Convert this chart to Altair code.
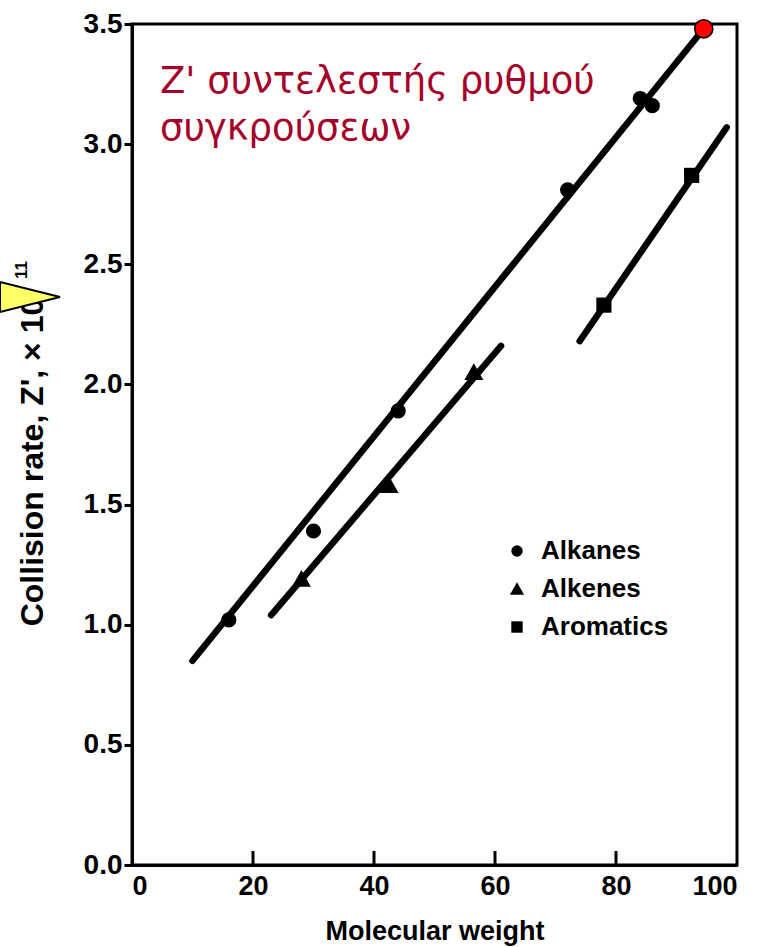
import altair as alt
import pandas as pd

# ---- data ----
series_names = ["Alkanes", "Alkenes", "Aromatics"]

alkanes_x = [16, 30, 44, 72, 84, 86]
alkanes_y = [1.02, 1.39, 1.89, 2.81, 3.19, 3.16]
alkenes_x = [28, 42.5, 56.5]
alkenes_y = [1.19, 1.58, 2.05]
aromatics_x = [78, 92.5]
aromatics_y = [2.33, 2.87]

# fitted line endpoints
alkanes_line_x = [10, 94.5]
alkanes_line_y = [0.85, 3.48]
alkenes_line_x = [23, 61]
alkenes_line_y = [1.04, 2.16]
aromatics_line_x = [74, 98.3]
aromatics_line_y = [2.18, 3.07]

highlight_x = [94.5]
highlight_y = [3.48]

x_ticks = [0, 20, 40, 60, 80, 100]
y_ticks = [0.0, 0.5, 1.0, 1.5, 2.0, 2.5, 3.0, 3.5]

note_lines = ["Z' συντελεστής ρυθμού", "συγκρούσεων"]
y_title = "Collision rate, Z', \u00d7 10"
y_title_sup = "11"
x_title = "Molecular weight"

# ---- tables ----
pts = pd.DataFrame({
    "series": ["Alkanes"] * len(alkanes_x) + ["Alkenes"] * len(alkenes_x) + ["Aromatics"] * len(aromatics_x),
    "x": alkanes_x + alkenes_x + aromatics_x,
    "y": alkanes_y + alkenes_y + aromatics_y,
})
lines = pd.DataFrame({
    "series": ["Alkanes"] * 2 + ["Alkenes"] * 2 + ["Aromatics"] * 2,
    "x": alkanes_line_x + alkenes_line_x + aromatics_line_x,
    "y": alkanes_line_y + alkenes_line_y + aromatics_line_y,
})
hl = pd.DataFrame({"x": highlight_x, "y": highlight_y})
xt = pd.DataFrame({"x": x_ticks[1:-1]})

FONT = "Liberation Sans"
xs = alt.Scale(domain=[0, 100], nice=False)
ys = alt.Scale(domain=[0, 3.5], nice=False)

x_enc = alt.X("x:Q", scale=xs, axis=alt.Axis(
    values=x_ticks, ticks=False, grid=False, title=x_title, labelPadding=8,
    titlePadding=19, titleFontSize=27, titleFont=FONT, titleFontWeight="bold",
    titleColor="black"))
y_enc = alt.Y("y:Q", scale=ys, axis=alt.Axis(
    values=y_ticks, format=".1f", grid=False, title=None, tickSize=8,
    tickWidth=3, tickColor="black", labelPadding=2, labelFontSize=28))

line_layer = alt.Chart(lines).mark_line(
    color="black", strokeWidth=6.5, strokeCap="round"
).encode(x=x_enc, y=y_enc, detail="series:N")

TRIANGLE = "M0,-1.2L1.25,1L-1.25,1Z"

point_layer = alt.Chart(pts).mark_point(
    filled=True, color="black", opacity=1, size=230
).encode(
    x=alt.X("x:Q", scale=xs),
    y=alt.Y("y:Q", scale=ys),
    shape=alt.Shape("series:N",
        scale=alt.Scale(domain=series_names, range=["circle", TRIANGLE, "square"]),
        legend=alt.Legend(
            orient="none", legendX=372, legendY=514, title=None,
            labelFont=FONT, labelFontSize=26, labelFontWeight="bold",
            labelColor="black", symbolSize=130, symbolFillColor="black",
            symbolStrokeColor="black", symbolStrokeWidth=0, rowPadding=12,
            labelOffset=11, padding=0)),
)

hl_layer = alt.Chart(hl).mark_point(
    filled=True, fill="red", stroke="black", strokeWidth=1.5, opacity=1, size=330,
    shape="circle"
).encode(x=alt.X("x:Q", scale=xs), y=alt.Y("y:Q", scale=ys))

tick_layer = alt.Chart(xt).mark_rule(color="black", strokeWidth=3).encode(
    x=alt.X("x:Q", scale=xs), y=alt.value(827), y2=alt.value(841))

note_layer = alt.Chart(pd.DataFrame({"a": [0]})).mark_text(
    align="left", baseline="alphabetic", font="DejaVu Sans", fontSize=37,
    color="#a5002a", lineHeight=47
).encode(x=alt.value(28), y=alt.value(69), text=alt.value(note_lines))

ytitle_layer = alt.Chart(pd.DataFrame({"a": [0]})).mark_text(
    align="center", baseline="middle", angle=270, font=FONT, fontSize=32,
    fontWeight="bold", color="black"
).encode(x=alt.value(-99), y=alt.value(438), text=alt.value(y_title))

ysup_layer = alt.Chart(pd.DataFrame({"a": [0]})).mark_text(
    align="center", baseline="middle", angle=270, font=FONT, fontSize=17,
    fontWeight="bold", color="black"
).encode(x=alt.value(-110), y=alt.value(246), text=alt.value(y_title_sup))

arrow_layer = alt.Chart(pd.DataFrame({"a": [0]})).mark_point(
    filled=True, fill="#ffff66", stroke="black", strokeWidth=2, opacity=1,
    shape="M -1 -0.5 L 1 0 L -1 0.5 Z", size=3600
).encode(x=alt.value(-102), y=alt.value(273))

chart = alt.layer(
    line_layer, point_layer, hl_layer, tick_layer, note_layer,
    ytitle_layer, ysup_layer, arrow_layer
).properties(
    width=605, height=841,
    autosize=alt.AutoSizeParams(type="none"),
    padding={"left": 132, "top": 24, "right": 25, "bottom": 82},
).configure_view(
    stroke="black", strokeWidth=3
).configure_axis(
    domainColor="black", domainWidth=3, labelFont=FONT, labelFontSize=27,
    labelFontWeight="bold", labelColor="black"
)

chart.save("out.html", embed_options={"renderer": "svg", "actions": False})
